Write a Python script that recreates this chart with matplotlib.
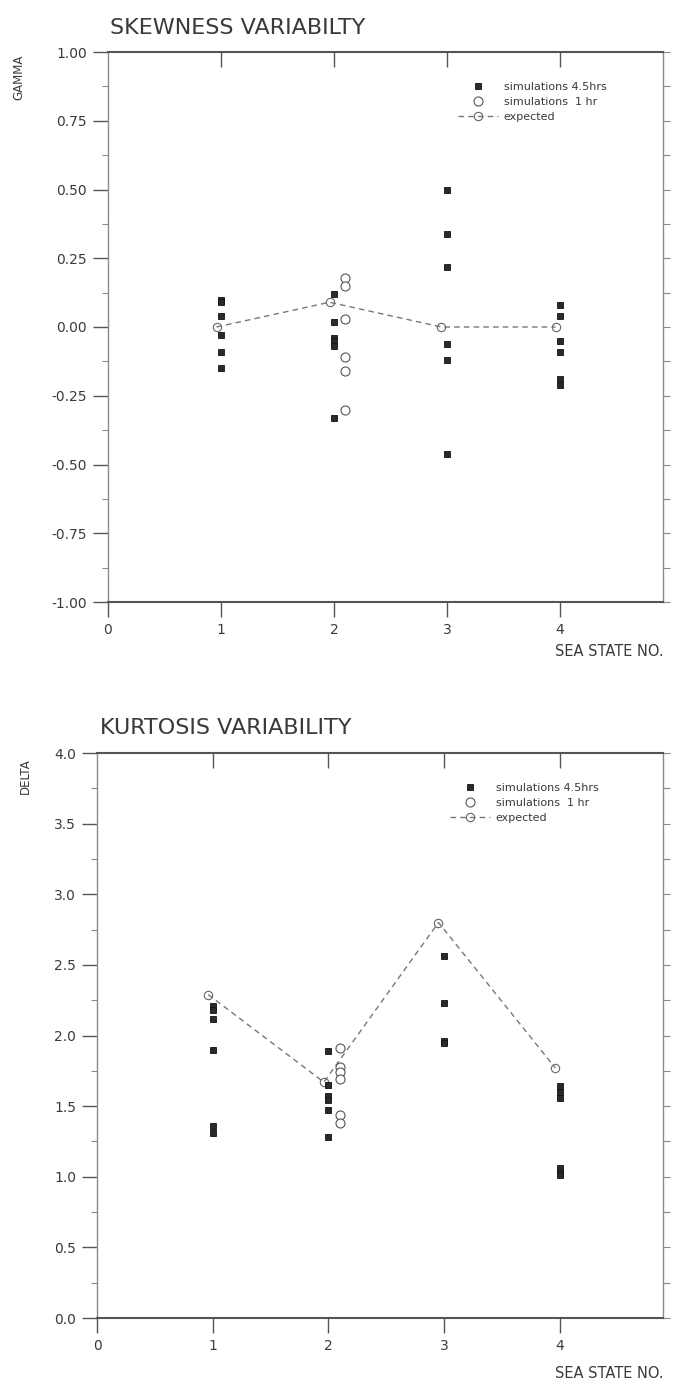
import matplotlib
matplotlib.use("Agg")
import matplotlib.pyplot as plt
from matplotlib import font_manager
import numpy as np

# ---------------- data ----------------
sea_states = [1, 2, 3, 4]
x_45hrs = [1.0, 2.0, 3.0, 4.0]
x_1hr = [2.1]
x_expected = [0.96, 1.96, 2.95, 3.96]

gamma_45_ss1 = [0.10, 0.09, 0.04, -0.03, -0.09, -0.15]
gamma_45_ss2 = [0.12, 0.02, -0.04, -0.05, -0.07, -0.33]
gamma_45_ss3 = [0.50, 0.34, 0.22, -0.06, -0.12, -0.46]
gamma_45_ss4 = [0.08, 0.04, -0.05, -0.09, -0.19, -0.21]
gamma_1_ss2 = [0.18, 0.15, 0.03, -0.11, -0.16, -0.30]
gamma_expected = [0.0, 0.09, 0.0, 0.0]

delta_45_ss1 = [2.21, 2.18, 2.12, 1.90, 1.36, 1.31]
delta_45_ss2 = [1.89, 1.65, 1.57, 1.54, 1.47, 1.28]
delta_45_ss3 = [2.56, 2.23, 1.96, 1.95]
delta_45_ss4 = [1.64, 1.60, 1.56, 1.06, 1.03, 1.01]
delta_1_ss2 = [1.91, 1.78, 1.74, 1.69, 1.44, 1.38]
delta_expected = [2.29, 1.67, 2.80, 1.77]

gamma_ticks = [-1.00, -0.75, -0.50, -0.25, 0.00, 0.25, 0.50, 0.75, 1.00]
delta_ticks = [0.0, 0.5, 1.0, 1.5, 2.0, 2.5, 3.0, 3.5, 4.0]
x_ticks = [0, 1, 2, 3, 4]

legend_labels = ["simulations 4.5hrs", "simulations  1 hr", "expected"]

# ---------------- fonts ----------------
avail = {f.name for f in font_manager.fontManager.ttflist}
narrow = None
for cand in ["Liberation Sans Narrow", "DejaVu Sans Condensed"]:
    if cand in avail:
        narrow = cand
        break
if narrow:
    FAM = narrow
    TSIZE, LSIZE, ASIZE, XSIZE, GSIZE = 18, 11.5, 9.5, 12, 9
else:
    FAM = "DejaVu Sans"
    TSIZE, LSIZE, ASIZE, XSIZE, GSIZE = 16, 10, 8.5, 10.5, 8
plt.rcParams["font.family"] = [FAM, "DejaVu Sans"]

TXT = "#3a3a3a"
SP_DARK = "#555555"
SP_LIGHT = "#8a8a8a"

fig = plt.figure(figsize=(6.75, 13.82), dpi=100)

W, H = 675.0, 1382.0


def make_axes(left, right, top, bottom):
    return fig.add_axes([left / W, 1 - bottom / H, (right - left) / W, (bottom - top) / H])


def style(ax, yticks, ymin, ymax, xmax, fmt, ylabel, title, title_x, title_y, ylab_pos, xlab_y):
    ax.set_xlim(0, xmax)
    ax.set_ylim(ymin, ymax)
    step = yticks[1] - yticks[0]
    ax.set_yticks(yticks)
    ax.set_yticklabels([fmt.format(v).replace("\u2212", "-") for v in yticks])
    ax.set_yticks(list(np.array(yticks[:-1]) + step / 2), minor=True)
    ax.set_xticks(x_ticks)
    ax.set_xticklabels([str(v) for v in x_ticks])
    ax.tick_params(axis="y", which="major", direction="out", length=11, width=1.0,
                   color=SP_DARK, labelsize=LSIZE, labelcolor=TXT, pad=4)
    ax.tick_params(axis="y", which="minor", direction="out", length=4, width=0.8,
                   color=SP_LIGHT)
    ax.tick_params(axis="x", which="major", direction="out", length=11, width=1.0,
                   color=SP_DARK, labelsize=LSIZE, labelcolor=TXT, pad=4)
    for s in ["top", "bottom"]:
        ax.spines[s].set_color(SP_DARK)
        ax.spines[s].set_linewidth(1.5)
    for s in ["left", "right"]:
        ax.spines[s].set_color(SP_LIGHT)
        ax.spines[s].set_linewidth(1.0)
    # top inward ticks
    sx = ax.secondary_xaxis("top")
    sx.set_xticks(x_ticks[1:])
    sx.set_xticklabels([])
    sx.tick_params(direction="in", length=11, width=1.0, color=SP_DARK)
    sx.spines["top"].set_visible(False)
    # right outward ticks at every half step
    sy = ax.secondary_yaxis("right")
    sy.set_yticks(list(np.arange(ymin, ymax + step / 4, step / 2)))
    sy.set_yticklabels([])
    sy.tick_params(direction="out", length=5, width=0.8, color=SP_LIGHT)
    sy.spines["right"].set_visible(False)

    fig.text(title_x / W, 1 - title_y / H, title, fontsize=TSIZE, color=TXT,
             ha="left", va="center")
    fig.text(ylab_pos[0] / W, 1 - ylab_pos[1] / H, ylabel, fontsize=ASIZE, color=TXT,
             rotation=90, ha="center", va="center")
    fig.text(664 / W, 1 - xlab_y / H, "SEA STATE NO.", fontsize=XSIZE, color=TXT,
             ha="right", va="center")


def plot_panel(ax, groups45, vals1, expected, leg_left, leg_top, ax_left, ax_w, ax_top, ax_h):
    star_kw = dict(linestyle="none", marker="s", markersize=4.2, markerfacecolor="#2a2a2a",
                   markeredgecolor="#111111", markeredgewidth=0.6, zorder=4)
    circ_kw = dict(linestyle="none", marker="o", markersize=6.5, markerfacecolor="white",
                   markeredgecolor="#555555", markeredgewidth=0.8, zorder=5)
    h1 = None
    for xv, vals in zip(x_45hrs, groups45):
        h1, = ax.plot([xv] * len(vals), vals, **star_kw)
    h2, = ax.plot(x_1hr * len(vals1), vals1, **circ_kw)
    h3, = ax.plot(x_expected, expected, color="#777777", linestyle=(0, (4, 3)), linewidth=1.0,
                  marker="o", markersize=6, markerfacecolor="none", markeredgecolor="#666666",
                  markeredgewidth=0.8, zorder=3)
    anchor = ((leg_left - ax_left) / ax_w, 1 - (leg_top - ax_top) / ax_h)
    leg = ax.legend([h1, h2, h3], legend_labels, loc="upper left",
                    bbox_to_anchor=anchor, frameon=False, fontsize=GSIZE,
                    handlelength=3.6, handletextpad=0.5, labelspacing=0.45,
                    borderpad=0, borderaxespad=0)
    for t in leg.get_texts():
        t.set_color(TXT)


# ---------------- top panel ----------------
ax1 = make_axes(108, 663, 52, 602)
plot_panel(ax1, [gamma_45_ss1, gamma_45_ss2, gamma_45_ss3, gamma_45_ss4],
           gamma_1_ss2, gamma_expected, 458, 82, 108, 555.0, 52, 550.0)
style(ax1, gamma_ticks, -1.0, 1.0, 4.91, "{:.2f}", "GAMMA", "SKEWNESS VARIABILTY",
      110, 28, (19, 77), 652)

# ---------------- bottom panel ----------------
ax2 = make_axes(97, 663, 753, 1318)
plot_panel(ax2, [delta_45_ss1, delta_45_ss2, delta_45_ss3, delta_45_ss4],
           delta_1_ss2, delta_expected, 450, 783, 97, 566.0, 753, 565.0)
style(ax2, delta_ticks, 0.0, 4.0, 4.89, "{:.1f}", "DELTA", "KURTOSIS VARIABILITY",
      100, 728, (25, 776), 1373)

fig.savefig("out.png", dpi=100)
